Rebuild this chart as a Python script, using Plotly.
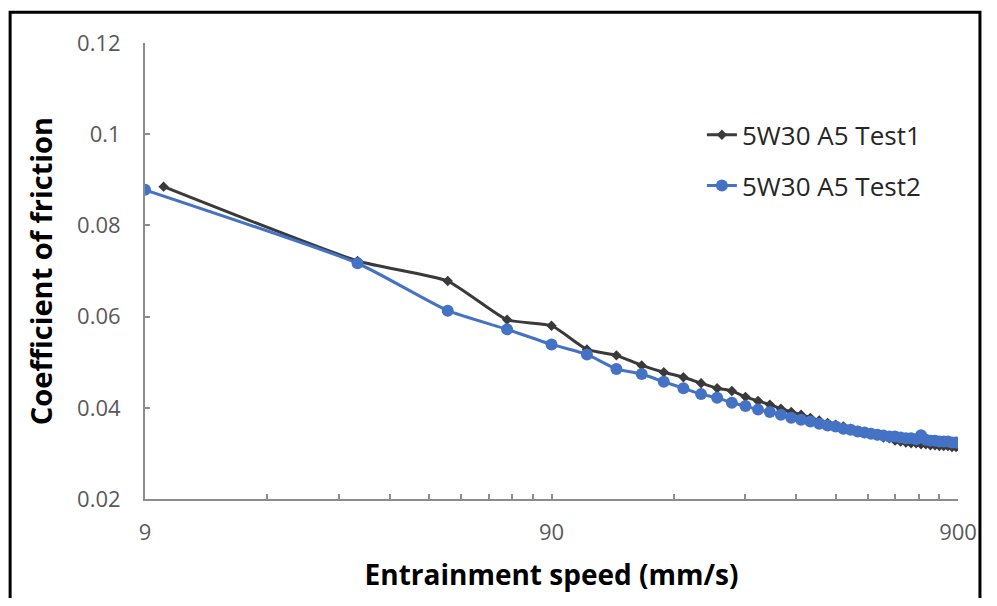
import plotly.graph_objects as go

speed_test1 = [10, 30, 50, 70, 90, 110, 130, 150, 170, 190, 210, 230, 250, 270, 290,
               310, 330, 350, 370, 390, 410, 430, 450, 470, 490, 510, 530, 550, 570, 590,
               610, 630, 650, 670, 690, 710, 730, 750, 770, 790, 810, 830, 850, 870, 890]
cof_test1 = [0.0885, 0.0722, 0.0678, 0.0593, 0.0580, 0.0528, 0.0515, 0.0493, 0.0478, 0.0467,
             0.0454, 0.0443, 0.0437, 0.0424, 0.0415, 0.0407, 0.0398, 0.0391, 0.0385, 0.0378,
             0.0372, 0.0367, 0.0363, 0.0359, 0.0354, 0.0350, 0.0346, 0.0343, 0.0339, 0.0335,
             0.0333, 0.0328, 0.0326, 0.0324, 0.0322, 0.0322, 0.0320, 0.0320, 0.0318, 0.0318,
             0.0316, 0.0316, 0.0316, 0.0314, 0.0314]

speed_test2 = [9, 30, 50, 70, 90, 110, 130, 150, 170, 190, 210, 230, 250, 270, 290,
               310, 330, 350, 370, 390, 410, 430, 450, 470, 490, 510, 530, 550, 570, 590,
               610, 630, 650, 670, 690, 710, 730, 750, 770, 790, 810, 830, 850, 870, 890]
cof_test2 = [0.0878, 0.0717, 0.0613, 0.0572, 0.0539, 0.0517, 0.0485, 0.0474, 0.0457, 0.0443,
             0.0430, 0.0422, 0.0411, 0.0404, 0.0396, 0.0391, 0.0385, 0.0378, 0.0374, 0.0370,
             0.0365, 0.0361, 0.0359, 0.0354, 0.0352, 0.0348, 0.0346, 0.0343, 0.0341, 0.0339,
             0.0337, 0.0337, 0.0335, 0.0333, 0.0333, 0.0331, 0.0340, 0.0330, 0.0328, 0.0328,
             0.0326, 0.0326, 0.0326, 0.0324, 0.0324]

x_ticks = [9, 90, 900]
x_minor = [9 * k for k in range(2, 10)] + [90 * k for k in range(2, 10)]
y_ticks = [0.02, 0.04, 0.06, 0.08, 0.1, 0.12]
y_ticklabels = ["0.02", "0.04", "0.06", "0.08", "0.1", "0.12"]

series_names = ["5W30 A5 Test1", "5W30 A5 Test2"]

FONT = "Open Sans"

fig = go.Figure()
fig.add_trace(go.Scatter(
    x=speed_test1, y=cof_test1, name=series_names[0], mode="lines+markers",
    line=dict(color="#3A3A3A", width=3, shape="spline", smoothing=0.5),
    marker=dict(symbol="diamond", size=8, color="#3A3A3A"),
    legendgroup="a",
))
fig.add_trace(go.Scatter(
    x=speed_test2, y=cof_test2, name=series_names[1], mode="lines+markers",
    line=dict(color="#4472C4", width=3, shape="spline", smoothing=0.5),
    marker=dict(symbol="circle", size=12, color="#4472C4"),
    legendgroup="b",
))

axis_color = "#8C8C8C"
fig.update_layout(
    width=981, height=590, autosize=False,
    margin=dict(l=137, r=24, t=35, b=95),
    paper_bgcolor="white", plot_bgcolor="white",
    font=dict(family=FONT, color="#595959"),
    showlegend=True,
    legend=dict(
        x=0.685, y=0.85, xanchor="left", yanchor="top",
        font=dict(family=FONT, size=26, color="#262626"),
        tracegroupgap=14, bgcolor="rgba(0,0,0,0)",
    ),
    xaxis=dict(
        type="log", range=[0.9542425, 2.9542425],
        tickmode="array", tickvals=x_ticks, ticktext=[str(v) for v in x_ticks],
        ticks="inside", ticklen=5, tickcolor=axis_color, tickwidth=1.5,
        minor=dict(tickmode="array", tickvals=x_minor, ticks="inside", ticklen=5,
                   tickcolor=axis_color, tickwidth=1.5, showgrid=False),
        showline=True, linecolor=axis_color, linewidth=2,
        showgrid=False, zeroline=False,
        tickfont=dict(family=FONT, size=22, color="#595959"),
        ticklabelstandoff=13,
        title=dict(text="<b>Entrainment speed (mm/s)</b>",
                   font=dict(family=FONT, size=28, color="#000000"), standoff=20),
    ),
    yaxis=dict(
        range=[0.02, 0.12],
        tickmode="array", tickvals=y_ticks, ticktext=y_ticklabels,
        ticks="inside", ticklen=5, tickcolor=axis_color, tickwidth=1.5,
        showline=True, linecolor=axis_color, linewidth=2,
        showgrid=False, zeroline=False,
        tickfont=dict(family=FONT, size=22, color="#595959"),
        ticklabelstandoff=18,
        title=dict(text="<b>Coefficient of friction</b>",
                   font=dict(family=FONT, size=29, color="#000000"), standoff=16),
    ),
)

# outer frame
fig.add_shape(type="rect", xref="paper", yref="paper",
              x0=-0.1659, x1=1.027, y0=-0.26, y1=1.0674,
              line=dict(color="black", width=3), fillcolor="rgba(0,0,0,0)", layer="above")

fig.write_html("out.html")
